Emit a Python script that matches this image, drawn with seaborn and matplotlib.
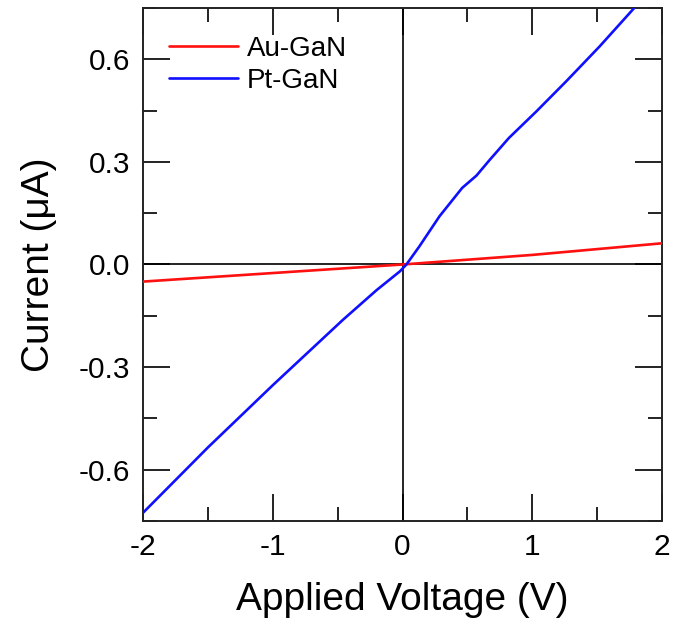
import numpy as np
import pandas as pd
import matplotlib
matplotlib.use("Agg")
import matplotlib.pyplot as plt
import seaborn as sns
from matplotlib.ticker import MultipleLocator

# I-V curves
v_pt = [-2.0, -1.5, -1.0, -0.46, -0.2, -0.02, 0.03, 0.13, 0.285, 0.46, 0.57, 0.67, 0.82, 1.03, 1.26, 1.52, 1.8]
i_pt = [-0.726, -0.535, -0.353, -0.162, -0.075, -0.02, 0.0, 0.053, 0.141, 0.224, 0.26, 0.305, 0.37, 0.447, 0.535, 0.638, 0.756]

v_au = [-2.0, -1.0, 0.0, 1.0, 2.0]
i_au = [-0.05, -0.025, 0.0, 0.028, 0.062]

labels = ["Au-GaN", "Pt-GaN"]
colors = ["#ff1010", "#1010ff"]

df = pd.concat([
    pd.DataFrame({"V": v_au, "I": i_au, "sample": labels[0]}),
    pd.DataFrame({"V": v_pt, "I": i_pt, "sample": labels[1]}),
])

sns.set_style("white")
plt.rcParams['font.family'] = ['Liberation Sans', 'DejaVu Sans']
plt.rcParams['text.color'] = 'black'
plt.rcParams['axes.labelcolor'] = 'black'
plt.rcParams['xtick.color'] = 'black'
plt.rcParams['ytick.color'] = 'black'

fig = plt.figure(figsize=(6.73, 6.44), dpi=100)
ax = fig.add_axes([0.2125, 0.191, 0.7712, 0.7966])

ax.axhline(0, color="black", lw=1.2, zorder=1)
ax.axvline(0, color="black", lw=1.2, zorder=1)

sns.lineplot(data=df, x="V", y="I", hue="sample", palette=colors, sort=False,
             estimator=None, lw=1.9, ax=ax, zorder=3)

ax.set_xlim(-2, 2)
ax.set_ylim(-0.75, 0.75)
ax.xaxis.set_major_locator(MultipleLocator(1))
ax.xaxis.set_minor_locator(MultipleLocator(0.5))
ax.yaxis.set_major_locator(MultipleLocator(0.3))
ax.yaxis.set_minor_locator(MultipleLocator(0.15))
ax.xaxis.set_major_formatter(plt.FuncFormatter(lambda x, p: "%d" % round(x)))
ax.yaxis.set_major_formatter(plt.FuncFormatter(lambda y, p: "%.1f" % y))

ax.tick_params(which="both", direction="in", top=True, right=True, bottom=True,
               left=True, width=1.4, color="#222222", labelsize=21.5)
ax.tick_params(which="major", length=19.5, pad=9)
ax.tick_params(which="minor", length=10)
for s in ax.spines.values():
    s.set_linewidth(1.4)
    s.set_color("#222222")

ax.set_xlabel("Applied Voltage (V)", fontsize=28, labelpad=15)
ax.set_ylabel("Current (\u03bcA)", fontsize=28, labelpad=16)

ax.legend(loc="upper left", bbox_to_anchor=(0.05, 0.945), frameon=False,
          fontsize=20, handlelength=2.5, handletextpad=0.3, labelspacing=0.2,
          borderpad=0, borderaxespad=0)

fig.savefig("out.png", dpi=100)
